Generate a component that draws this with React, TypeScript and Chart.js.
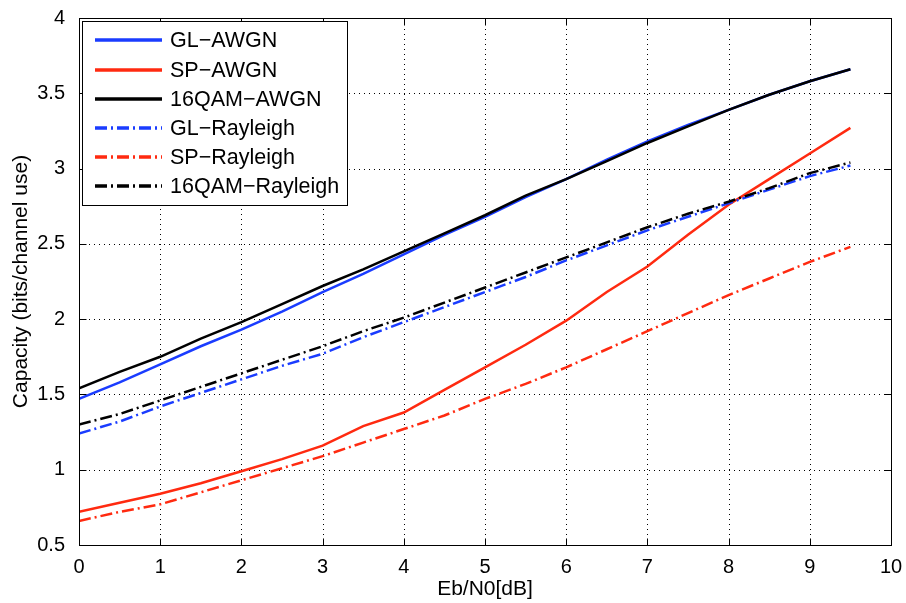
import React, { useEffect, useRef } from "react";
import { Chart, registerables } from "chart.js";

Chart.register(...registerables);

const xValues = [0, 0.5, 1, 1.5, 2, 2.5, 3, 3.5, 4, 4.5, 5, 5.5, 6, 6.5, 7, 7.5, 8, 8.5, 9, 9.5];

const glAwgn = [1.47, 1.58, 1.70, 1.82, 1.93, 2.05, 2.18, 2.30, 2.43, 2.56, 2.68, 2.81, 2.93, 3.06, 3.18, 3.29, 3.39, 3.49, 3.58, 3.66];
const spAwgn = [0.72, 0.78, 0.84, 0.91, 0.99, 1.07, 1.16, 1.29, 1.38, 1.53, 1.68, 1.83, 1.99, 2.18, 2.35, 2.56, 2.76, 2.93, 3.10, 3.27];
const qamAwgn = [1.54, 1.65, 1.75, 1.87, 1.98, 2.10, 2.22, 2.33, 2.45, 2.57, 2.69, 2.82, 2.93, 3.05, 3.17, 3.28, 3.39, 3.49, 3.58, 3.66];
const glRay = [1.24, 1.32, 1.42, 1.51, 1.60, 1.69, 1.77, 1.88, 1.98, 2.08, 2.18, 2.28, 2.39, 2.49, 2.59, 2.68, 2.77, 2.86, 2.95, 3.02];
const spRay = [0.66, 0.72, 0.77, 0.85, 0.93, 1.01, 1.09, 1.18, 1.27, 1.36, 1.47, 1.57, 1.68, 1.80, 1.92, 2.04, 2.16, 2.27, 2.38, 2.48];
const qamRay = [1.30, 1.37, 1.46, 1.55, 1.64, 1.73, 1.82, 1.92, 2.01, 2.11, 2.21, 2.31, 2.41, 2.51, 2.61, 2.70, 2.78, 2.87, 2.97, 3.04];

const seriesLabels = ["GL\u2212AWGN", "SP\u2212AWGN", "16QAM\u2212AWGN", "GL\u2212Rayleigh", "SP\u2212Rayleigh", "16QAM\u2212Rayleigh"];
const xTicks = [0, 1, 2, 3, 4, 5, 6, 7, 8, 9, 10];
const yTicks = [0.5, 1, 1.5, 2, 2.5, 3, 3.5, 4];
const xTitle = "Eb/N0[dB]";
const yTitle = "Capacity (bits/channel use)";

const BLUE = "#1a3cff";
const RED = "#ff2a10";
const BLACK = "#000000";
const DASHDOT = [12, 4, 2, 4];
const FONT = "'Liberation Sans', Arial, sans-serif";

const framePlugin = {
  id: "matlabFrame",
  beforeDatasetsDraw(chart: any) {
    const { ctx, chartArea: a, scales } = chart;
    ctx.save();
    ctx.strokeStyle = "#000";
    ctx.lineWidth = 1;
    ctx.setLineDash([1, 4]);
    for (const t of xTicks) {
      if (t === xTicks[0] || t === xTicks[xTicks.length - 1]) continue;
      const x = Math.round(scales.x.getPixelForValue(t)) + 0.5;
      ctx.beginPath();
      ctx.moveTo(x, a.bottom);
      ctx.lineTo(x, a.top);
      ctx.stroke();
    }
    for (const t of yTicks) {
      if (t === yTicks[0] || t === yTicks[yTicks.length - 1]) continue;
      const y = Math.round(scales.y.getPixelForValue(t)) + 0.5;
      ctx.beginPath();
      ctx.moveTo(a.left, y);
      ctx.lineTo(a.right, y);
      ctx.stroke();
    }
    ctx.restore();
  },
  afterDatasetsDraw(chart: any) {
    const { ctx, chartArea: a, scales, data } = chart;
    ctx.save();
    ctx.strokeStyle = "#000";
    ctx.lineWidth = 1;
    ctx.setLineDash([]);
    const L = Math.round(a.left) + 0.5, R = Math.round(a.right) + 0.5;
    const T = Math.round(a.top) + 0.5, B = Math.round(a.bottom) + 0.5;
    ctx.strokeRect(L, T, R - L, B - T);
    const tl = 7;
    for (const t of xTicks) {
      const x = Math.round(scales.x.getPixelForValue(t)) + 0.5;
      ctx.beginPath();
      ctx.moveTo(x, B); ctx.lineTo(x, B - tl);
      ctx.moveTo(x, T); ctx.lineTo(x, T + tl);
      ctx.stroke();
    }
    for (const t of yTicks) {
      const y = Math.round(scales.y.getPixelForValue(t)) + 0.5;
      ctx.beginPath();
      ctx.moveTo(L, y); ctx.lineTo(L + tl, y);
      ctx.moveTo(R, y); ctx.lineTo(R - tl, y);
      ctx.stroke();
    }
    // legend
    const bx = 82.5, by = 21.5, bw = 265, bh = 184;
    ctx.fillStyle = "#fff";
    ctx.fillRect(bx, by, bw, bh);
    ctx.strokeRect(bx, by, bw, bh);
    const rowY = [40, 70, 99, 128, 157, 186];
    ctx.font = `21.5px ${FONT}`;
    ctx.textBaseline = "middle";
    ctx.textAlign = "left";
    data.datasets.forEach((ds: any, i: number) => {
      const y = rowY[i];
      ctx.strokeStyle = ds.borderColor;
      ctx.lineWidth = 3.5;
      ctx.setLineDash(ds.borderDash || []);
      ctx.beginPath();
      ctx.moveTo(95, y);
      ctx.lineTo(162, y);
      ctx.stroke();
      ctx.fillStyle = "#000";
      ctx.fillText(ds.label, 170, y + 1);
    });
    ctx.restore();
  },
};

export default function App() {
  const ref = useRef<HTMLCanvasElement>(null);
  useEffect(() => {
    document.body.style.margin = "0";
    const mk = (label: string, vals: number[], color: string, dash: number[] | undefined, order: number) => ({
      label,
      data: xValues.map((x, i) => ({ x, y: vals[i] })),
      borderColor: color,
      backgroundColor: color,
      borderWidth: 2.5,
      borderDash: dash,
      pointRadius: 0,
      tension: 0,
      fill: false,
      order,
    });
    const chart = new Chart(ref.current!, {
      type: "line",
      data: {
        datasets: [
          mk(seriesLabels[0], glAwgn, BLUE, undefined, 6),
          mk(seriesLabels[1], spAwgn, RED, undefined, 5),
          mk(seriesLabels[2], qamAwgn, BLACK, undefined, 4),
          mk(seriesLabels[3], glRay, BLUE, DASHDOT, 3),
          mk(seriesLabels[4], spRay, RED, DASHDOT, 2),
          mk(seriesLabels[5], qamRay, BLACK, DASHDOT, 1),
        ],
      },
      options: {
        animation: false,
        responsive: false,
        devicePixelRatio: 1,
        layout: { padding: { top: 12, right: 15, left: 0, bottom: 0 } },
        plugins: { legend: { display: false }, tooltip: { enabled: false } },
        scales: {
          x: {
            type: "linear",
            min: 0,
            max: 10,
            afterBuildTicks: (s: any) => { s.ticks = xTicks.map((v) => ({ value: v })); },
            afterFit: (s: any) => { s.height = 58; },
            grid: { display: false },
            border: { display: false },
            ticks: { color: "#000", font: { family: FONT, size: 20 }, padding: 2, maxRotation: 0, callback: (v: any) => String(v) },
            title: { display: true, text: xTitle, color: "#000", font: { family: FONT, size: 21 }, padding: { top: 0, bottom: 1 } },
          },
          y: {
            type: "linear",
            min: 0.5,
            max: 4,
            afterBuildTicks: (s: any) => { s.ticks = yTicks.map((v) => ({ value: v })); },
            afterFit: (s: any) => { s.width = 79; },
            grid: { display: false },
            border: { display: false },
            ticks: { color: "#000", font: { family: FONT, size: 20 }, padding: 6, callback: (v: any) => String(v) },
            title: { display: true, text: yTitle, color: "#000", font: { family: FONT, size: 21 }, padding: { top: 9, bottom: 2 } },
          },
        },
      } as any,
      plugins: [framePlugin],
    });
    return () => chart.destroy();
  }, []);
  return (
    <div style={{ width: 906, height: 603, background: "#fff" }}>
      <canvas ref={ref} width={906} height={603} style={{ display: "block" }} />
    </div>
  );
}
